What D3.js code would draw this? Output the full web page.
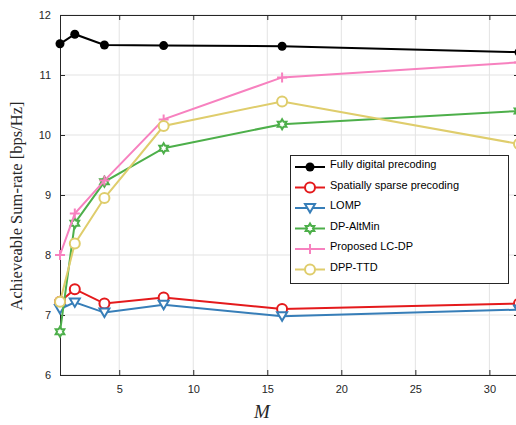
<!DOCTYPE html>
<html>
<head>
<meta charset="utf-8">
<script src="https://cdn.jsdelivr.net/npm/d3@7"></script>
<style>
    body { margin: 0; background: #fff; }
    svg { display: block; font-family: Helvetica, Arial, "Liberation Sans", sans-serif; }
</style>
</head>
<body>
<svg id="chart"></svg>
<script>
// data
const M = [1, 2, 4, 8, 16, 32];
const fullyDigital = [11.52, 11.68, 11.50, 11.49, 11.48, 11.38];
const spatiallySparse = [7.22, 7.43, 7.19, 7.29, 7.10, 7.19];
const lomp = [7.10, 7.21, 7.04, 7.17, 6.98, 7.09];
const dpAltMin = [6.72, 8.53, 9.22, 9.78, 10.18, 10.40];
const proposedLCDP = [8.00, 8.69, 9.24, 10.26, 10.96, 11.21];
const dppTTD = [7.22, 8.19, 8.95, 10.15, 10.56, 9.85];

const xTicks = [5, 10, 15, 20, 25, 30];
const yTicks = [6, 7, 8, 9, 10, 11, 12];

const series = [
    {name: "Fully digital precoding", values: fullyDigital, color: "#000000", marker: "dot"},
    {name: "Spatially sparse precoding", values: spatiallySparse, color: "#e41a1c", marker: "circle"},
    {name: "LOMP", values: lomp, color: "#377eb8", marker: "triangleDown"},
    {name: "DP-AltMin", values: dpAltMin, color: "#4daf4a", marker: "hexagram"},
    {name: "Proposed LC-DP", values: proposedLCDP, color: "#f781bf", marker: "plus"},
    {name: "DPP-TTD", values: dppTTD, color: "#dfcd6c", marker: "circle"}
];

const width = 516, height = 425;
const svg = d3.select("#chart").attr("width", width).attr("height", height);

const x = d3.scaleLinear().domain([1, 32]).range([60, 519]);
const y = d3.scaleLinear().domain([6, 12]).range([375, 15]);
const axisColor = "#262626";

// grid
const grid = svg.append("g");
xTicks.forEach(t => {
    grid.append("line")
        .attr("x1", x(t)).attr("x2", x(t))
        .attr("y1", y(6)).attr("y2", y(12))
        .attr("stroke", "#e3e3e3").attr("stroke-width", 1);
});
yTicks.forEach(t => {
    grid.append("line")
        .attr("x1", x(1)).attr("x2", x(32))
        .attr("y1", y(t)).attr("y2", y(t))
        .attr("stroke", "#e3e3e3").attr("stroke-width", 1);
});

// axes (box on, inward ticks)
const axB = svg.append("g").attr("transform", `translate(0,${y(6)})`)
    .call(d3.axisBottom(x).tickValues(xTicks).tickSizeInner(-5).tickSizeOuter(0).tickPadding(10).tickFormat(d3.format("d")));
const axT = svg.append("g").attr("transform", `translate(0,${y(12)})`)
    .call(d3.axisTop(x).tickValues(xTicks).tickSizeInner(-5).tickSizeOuter(0).tickFormat(""));
const axL = svg.append("g").attr("transform", `translate(${x(1)},0)`)
    .call(d3.axisLeft(y).tickValues(yTicks).tickSizeInner(-5).tickSizeOuter(0).tickPadding(9).tickFormat(d3.format("d")));
const axR = svg.append("g").attr("transform", `translate(${x(32)},0)`)
    .call(d3.axisRight(y).tickValues(yTicks).tickSizeInner(-5).tickSizeOuter(0).tickFormat(""));
[axB, axT, axL, axR].forEach(a => {
    a.select(".domain").attr("stroke", axisColor);
    a.selectAll(".tick line").attr("stroke", axisColor);
    a.selectAll(".tick text").attr("fill", axisColor).style("font-size", "11px")
        .style("font-family", "Helvetica, Arial, 'Liberation Sans', sans-serif");
});

// markers
function markerPath(type, s) {
    if (type === "triangleDown") {
        return `M${-s},${-s * 0.8}L${s},${-s * 0.8}L0,${s * 0.9}Z`;
    }
    if (type === "hexagram") {
        let pts = [];
        for (let i = 0; i < 12; i++) {
            let a = Math.PI / 2 + i * Math.PI / 6;
            let r = i % 2 === 0 ? s : s * 0.58;
            pts.push([r * Math.cos(a), -r * Math.sin(a)]);
        }
        return "M" + pts.map(p => p.join(",")).join("L") + "Z";
    }
    if (type === "plus") {
        return `M${-s},0L${s},0M0,${-s}L0,${s}`;
    }
    return "";
}

function drawMarker(g, type, cx, cy, color) {
    if (type === "dot") {
        g.append("circle").attr("cx", cx).attr("cy", cy).attr("r", 4.5).attr("fill", color);
    } else if (type === "circle") {
        g.append("circle").attr("cx", cx).attr("cy", cy).attr("r", 5)
            .attr("fill", "#fff").attr("stroke", color).attr("stroke-width", 2);
    } else if (type === "plus") {
        g.append("path").attr("d", markerPath(type, 5)).attr("transform", `translate(${cx},${cy})`)
            .attr("fill", "none").attr("stroke", color).attr("stroke-width", 2);
    } else if (type === "hexagram") {
        g.append("path").attr("d", markerPath(type, 5)).attr("transform", `translate(${cx},${cy})`)
            .attr("fill", "#fff").attr("stroke", color).attr("stroke-width", 2);
    } else {
        g.append("path").attr("d", markerPath(type, 5)).attr("transform", `translate(${cx},${cy})`)
            .attr("fill", "#fff").attr("stroke", color).attr("stroke-width", 2);
    }
}

const line = d3.line().x(d => x(d[0])).y(d => y(d[1]));
const plot = svg.append("g");
series.forEach(s => {
    const pts = M.map((m, i) => [m, s.values[i]]);
    const g = plot.append("g");
    g.append("path").attr("d", line(pts))
        .attr("fill", "none").attr("stroke", s.color).attr("stroke-width", 2);
    pts.forEach(p => drawMarker(g, s.marker, x(p[0]), y(p[1]), s.color));
});

// legend
const legend = svg.append("g");
legend.append("rect")
    .attr("x", 290.5).attr("y", 155.5).attr("width", 218).attr("height", 128)
    .attr("fill", "#fff").attr("stroke", axisColor).attr("stroke-width", 1);
series.forEach((s, i) => {
    const ly = 167 + i * 20.5;
    legend.append("line").attr("x1", 295).attr("x2", 325).attr("y1", ly).attr("y2", ly)
        .attr("stroke", s.color).attr("stroke-width", 2);
    drawMarker(legend, s.marker, 310, ly, s.color);
    legend.append("text").attr("x", 330).attr("y", ly).attr("dy", "0.1em")
        .style("font-size", "11px").attr("fill", "#000").text(s.name);
});

// axis labels
svg.append("text")
    .attr("transform", "translate(22,206) rotate(-90)")
    .attr("text-anchor", "middle")
    .style("font-family", "'Liberation Serif', 'Times New Roman', serif")
    .style("font-size", "16.5px").attr("fill", axisColor)
    .text("Achieveable Sum-rate [bps/Hz]");
svg.append("text")
    .attr("x", 262).attr("y", 418)
    .attr("text-anchor", "middle")
    .style("font-family", "'Liberation Serif', 'Times New Roman', serif")
    .style("font-style", "italic").style("font-size", "19px").attr("fill", axisColor)
    .text("M");
</script>
</body>
</html>
